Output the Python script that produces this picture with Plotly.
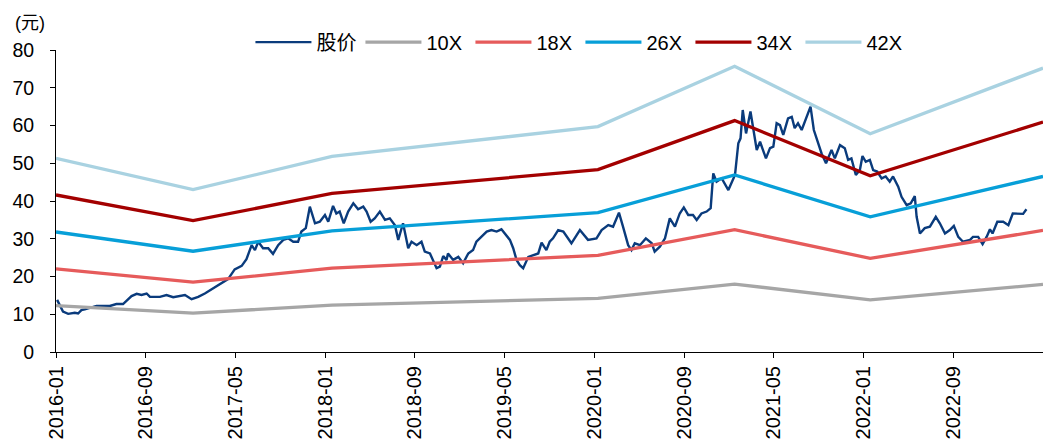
import plotly.graph_objects as go

# ---- PE band knots ----
band_dates = ["2016-01-01", "2017-01-07", "2018-01-19", "2020-01-11",
              "2021-01-16", "2022-01-19", "2023-05-03"]
pe10 = [12.3, 10.3, 12.4, 14.2, 18.0, 13.8, 17.9]
pe18 = [22.0, 18.5, 22.2, 25.6, 32.4, 24.8, 32.2]
pe26 = [31.8, 26.7, 32.1, 36.9, 46.9, 35.8, 46.5]
pe34 = [41.6, 34.8, 42.0, 48.3, 61.3, 46.7, 60.9]
pe42 = [51.3, 43.0, 51.8, 59.7, 75.7, 57.8, 75.2]

# ---- share price ----
price_dates = [
    "2016-01-04", "2016-01-20", "2016-02-03", "2016-02-21", "2016-03-01", "2016-03-10", "2016-03-19",
    "2016-04-20", "2016-05-26", "2016-06-13", "2016-07-01", "2016-07-24", "2016-08-07", "2016-08-20",
    "2016-09-03", "2016-09-12", "2016-10-09", "2016-10-27", "2016-11-14", "2016-12-16", "2017-01-03",
    "2017-01-21", "2017-02-08", "2017-03-03", "2017-03-25", "2017-04-12", "2017-04-30", "2017-05-19",
    "2017-06-01", "2017-06-15", "2017-06-24", "2017-07-03", "2017-07-16", "2017-07-30", "2017-08-12",
    "2017-08-26", "2017-09-09", "2017-09-22", "2017-10-06", "2017-10-19", "2017-10-28", "2017-11-09",
    "2017-11-20", "2017-12-04", "2017-12-17", "2017-12-31", "2018-01-09", "2018-01-22", "2018-01-31",
    "2018-02-09", "2018-02-20", "2018-03-04", "2018-03-18", "2018-03-31", "2018-04-14", "2018-04-23",
    "2018-05-04", "2018-05-15", "2018-05-29", "2018-06-12", "2018-06-25", "2018-07-09", "2018-07-18",
    "2018-07-31", "2018-08-14", "2018-08-23", "2018-09-06", "2018-09-19", "2018-09-28", "2018-10-12",
    "2018-10-30", "2018-11-08", "2018-11-17", "2018-11-26", "2018-11-30", "2018-12-14", "2018-12-28",
    "2019-01-10", "2019-01-24", "2019-02-06", "2019-02-15", "2019-03-01", "2019-03-15", "2019-03-28",
    "2019-04-11", "2019-04-24", "2019-05-03", "2019-05-17", "2019-05-26", "2019-06-04", "2019-06-13",
    "2019-06-22", "2019-07-06", "2019-07-19", "2019-08-02", "2019-08-11", "2019-08-24", "2019-09-02",
    "2019-09-11", "2019-09-25", "2019-10-09", "2019-10-31", "2019-11-23", "2019-12-15", "2020-01-07",
    "2020-01-21", "2020-02-08", "2020-02-21", "2020-03-08", "2020-03-19", "2020-04-02", "2020-04-11",
    "2020-04-20", "2020-05-04", "2020-05-20", "2020-06-05", "2020-06-13", "2020-06-27", "2020-07-11",
    "2020-07-24", "2020-08-07", "2020-08-20", "2020-08-31", "2020-09-12", "2020-09-25", "2020-10-05",
    "2020-10-18", "2020-11-01", "2020-11-12", "2020-11-19", "2020-11-28", "2020-12-12", "2020-12-30",
    "2021-01-17", "2021-01-26", "2021-02-01", "2021-02-07", "2021-02-16", "2021-02-28", "2021-03-17",
    "2021-03-26", "2021-04-11", "2021-04-22", "2021-05-01", "2021-05-10", "2021-05-19", "2021-05-28",
    "2021-06-10", "2021-06-20", "2021-06-28", "2021-07-07", "2021-07-17", "2021-07-28", "2021-08-10",
    "2021-08-19", "2021-08-31", "2021-09-09", "2021-09-21", "2021-10-06", "2021-10-15", "2021-10-29",
    "2021-11-11", "2021-11-20", "2021-11-29", "2021-12-11", "2021-12-22", "2021-12-29", "2022-01-07",
    "2022-01-18", "2022-01-27", "2022-02-07", "2022-02-19", "2022-03-02", "2022-03-13", "2022-03-22",
    "2022-04-05", "2022-04-14", "2022-04-28", "2022-05-09", "2022-05-20", "2022-05-25", "2022-06-03",
    "2022-06-16", "2022-06-30", "2022-07-16", "2022-07-27", "2022-08-10", "2022-08-23", "2022-09-03",
    "2022-09-15", "2022-09-28", "2022-10-17", "2022-10-25", "2022-11-08", "2022-11-20", "2022-12-01",
    "2022-12-10", "2022-12-17", "2022-12-30", "2023-01-15", "2023-01-29", "2023-02-10", "2023-03-01",
    "2023-03-10", "2023-03-19",
]
price = [
    13.8, 10.7, 10.1, 10.4, 10.2, 11.1, 11.3,
    12.2, 12.2, 12.7, 12.7, 14.8, 15.4, 15.1,
    15.5, 14.6, 14.6, 15.1, 14.5, 15.1, 14.0,
    14.6, 15.5, 16.9, 18.2, 19.3, 21.9, 22.8,
    24.6, 28.3, 27.0, 29.2, 27.5, 27.5, 26.0,
    28.3, 29.7, 30.1, 29.2, 29.2, 31.9, 32.8,
    38.5, 34.1, 34.5, 36.3, 34.5, 38.7, 36.7,
    37.2, 34.1, 37.2, 39.4, 37.8, 38.5, 37.2,
    34.5, 35.4, 37.2, 35.0, 35.4, 33.6, 29.7,
    34.1, 27.5, 29.2, 28.3, 29.2, 26.6, 26.1,
    22.2, 22.6, 25.4, 24.4, 26.1, 24.4, 25.2,
    23.5, 26.1, 27.0, 29.2, 30.5, 31.9, 32.3,
    31.9, 32.5, 31.4, 29.7, 27.5, 24.4, 23.0,
    22.2, 25.2, 25.7, 26.1, 29.0, 27.0, 29.2,
    30.1, 32.3, 31.9, 28.8, 32.3, 29.7, 30.1,
    32.3, 33.6, 33.2, 36.9, 33.2, 28.3, 27.0,
    28.8, 28.3, 30.1, 28.8, 26.6, 27.9, 30.1,
    35.4, 33.2, 36.7, 38.3, 36.3, 36.3, 35.0,
    36.7, 37.2, 38.1, 47.3, 45.1, 46.0, 42.9,
    46.9, 55.3, 56.6, 64.1, 57.9, 63.7, 53.5,
    55.7, 51.3, 54.0, 54.4, 60.6, 60.1, 57.5,
    61.9, 62.3, 59.3, 60.6, 58.8, 61.9, 65.0,
    58.8, 55.3, 52.6, 50.0, 53.5, 51.3, 54.8,
    54.0, 50.9, 51.3, 46.9, 48.2, 51.9, 50.4,
    50.9, 48.2, 47.8, 46.0, 46.5, 45.1, 46.5,
    43.8, 41.1, 38.9, 39.4, 41.3, 35.8, 31.4,
    32.8, 33.2, 35.8, 34.1, 31.4, 32.3, 33.4,
    30.5, 29.2, 29.7, 30.5, 30.5, 28.6, 30.5,
    32.5, 31.4, 34.5, 34.5, 33.6, 36.7, 36.7,
    36.6, 37.8,
]

tick_vals = ["2016-01-01", "2016-09-01", "2017-05-01", "2018-01-01", "2018-09-01", "2019-05-01",
             "2020-01-01", "2020-09-01", "2021-05-01", "2022-01-01", "2022-09-01"]
y_ticks = [0, 10, 20, 30, 40, 50, 60, 70, 80]

FONT = "Arial, 'Liberation Sans', 'Noto Sans CJK SC', sans-serif"

fig = go.Figure()
fig.add_trace(go.Scatter(x=price_dates, y=price, name="股价", mode="lines",
                         line=dict(color="#0A3B7C", width=2.4)))
for name, vals, col in [("10X", pe10, "#A6A6A6"), ("18X", pe18, "#E65B5B"),
                        ("26X", pe26, "#079FD8"), ("34X", pe34, "#A30000"),
                        ("42X", pe42, "#A9D2E1")]:
    fig.add_trace(go.Scatter(x=band_dates, y=vals, name=name, mode="lines",
                             line=dict(color=col, width=3.3)))

fig.update_layout(
    width=1051, height=444,
    margin=dict(l=56, r=8, t=50, b=92, autoexpand=False),
    paper_bgcolor="white", plot_bgcolor="white",
    font=dict(family=FONT, size=19, color="black"),
    showlegend=True,
    legend=dict(orientation="h", x=0.197, y=1.026, xanchor="left", yanchor="middle",
                font=dict(size=20), itemwidth=56, entrywidth=39, bgcolor="rgba(0,0,0,0)",
                traceorder="normal"),
    xaxis=dict(type="date", range=["2016-01-01", "2023-05-03"], automargin=False,
               tickvals=tick_vals, tickformat="%Y-%m", tickangle=-90,
               showgrid=False, zeroline=False, showline=True, linecolor="#000000",
               linewidth=1, ticks="outside", ticklen=5, tickcolor="#000000",
               tickfont=dict(size=20)),
    yaxis=dict(range=[0, 80], tickvals=y_ticks, showgrid=False, zeroline=False,
               showline=True, linecolor="#000000", linewidth=1, ticks="outside",
               ticklen=5, tickcolor="#000000", tickfont=dict(size=19.5),
               ticklabelstandoff=12, automargin=False),
    annotations=[dict(text="(元)", xref="paper", yref="paper", x=-0.044, y=1.089,
                      xanchor="left", yanchor="middle", showarrow=False,
                      font=dict(size=18))],
)

fig.write_html("out.html")
